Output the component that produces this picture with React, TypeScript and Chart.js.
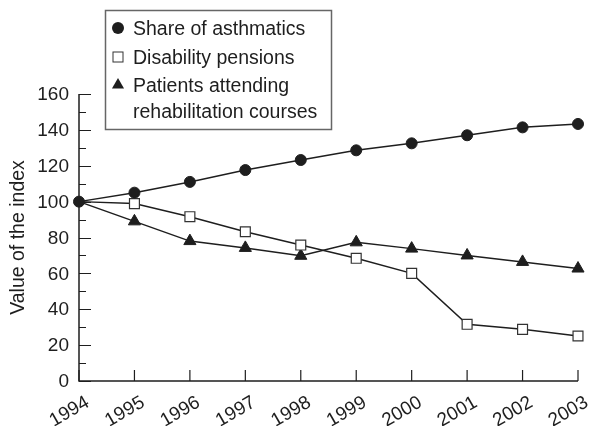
import React, { useEffect, useRef } from "react";
import { Chart, registerables } from "chart.js";

Chart.register(...registerables);

const years = ["1994", "1995", "1996", "1997", "1998", "1999", "2000", "2001", "2002", "2003"];
const asthmatics = [100, 105, 111, 117.6, 123.2, 128.6, 132.5, 137, 141.4, 143.3];
const disability = [100, 98.9, 91.6, 83.2, 75.8, 68.4, 60, 31.6, 28.8, 25.1];
const rehabilitation = [100, 89, 78, 74.2, 69.8, 77.3, 73.8, 70, 66.4, 62.7];
const yMajorTicks = [0, 20, 40, 60, 80, 100, 120, 140, 160];
const yMinorTicks = [10, 30, 50, 70, 90, 110, 130, 150];
const seriesNames = ["Share of asthmatics", "Disability pensions", "Patients attending rehabilitation courses"];
const legendLines = [["Share of asthmatics"], ["Disability pensions"], ["Patients attending", "rehabilitation courses"]];
const yTitle = "Value of the index";

const FONT = '"Liberation Sans", Arial, sans-serif';
const INK = "#1e1e1e";

function drawMarker(ctx: CanvasRenderingContext2D, kind: string, x: number, y: number) {
  ctx.save();
  ctx.lineWidth = 1;
  if (kind === "circle") {
    ctx.fillStyle = INK;
    ctx.beginPath();
    ctx.arc(x, y, 6, 0, Math.PI * 2);
    ctx.fill();
  } else if (kind === "rect") {
    ctx.fillStyle = "#fff";
    ctx.strokeStyle = "#333";
    ctx.fillRect(x - 5, y - 5, 10, 10);
    ctx.strokeRect(x - 5, y - 5, 10, 10);
  } else {
    ctx.fillStyle = INK;
    const r = 7;
    ctx.beginPath();
    ctx.moveTo(x, y - r);
    ctx.lineTo(x + r * Math.sin((2 * Math.PI) / 3), y - r * Math.cos((2 * Math.PI) / 3));
    ctx.lineTo(x + r * Math.sin((4 * Math.PI) / 3), y - r * Math.cos((4 * Math.PI) / 3));
    ctx.closePath();
    ctx.fill();
  }
  ctx.restore();
}

const axesPlugin = {
  id: "customAxes",
  beforeDatasetsDraw(chart: any) {
    const { ctx, scales } = chart;
    const xs = scales.x;
    const ys = scales.y;
    const left = xs.getPixelForValue(0);
    const right = xs.getPixelForValue(years.length - 1);
    const y0 = ys.getPixelForValue(0);
    const yTop = ys.getPixelForValue(160);
    ctx.save();
    ctx.strokeStyle = INK;
    ctx.lineWidth = 1.5;
    ctx.beginPath();
    ctx.moveTo(left, yTop);
    ctx.lineTo(left, y0);
    ctx.lineTo(right, y0);
    ctx.stroke();
    ctx.lineWidth = 1.2;
    ctx.beginPath();
    yMajorTicks.forEach((v) => {
      const p = Math.round(ys.getPixelForValue(v)) + 0.5;
      ctx.moveTo(left, p);
      ctx.lineTo(left + 12, p);
    });
    yMinorTicks.forEach((v) => {
      const p = Math.round(ys.getPixelForValue(v)) + 0.5;
      ctx.moveTo(left, p);
      ctx.lineTo(left + 7, p);
    });
    years.forEach((_, i) => {
      const p = xs.getPixelForValue(i);
      ctx.moveTo(p, y0);
      ctx.lineTo(p, y0 - 11);
    });
    ctx.stroke();

    ctx.fillStyle = INK;
    ctx.font = `19px ${FONT}`;
    ctx.textAlign = "right";
    ctx.textBaseline = "middle";
    yMajorTicks.forEach((v) => {
      ctx.fillText(String(v), left - 10, ys.getPixelForValue(v) + 1);
    });

    years.forEach((yr, i) => {
      const p = xs.getPixelForValue(i);
      ctx.save();
      ctx.translate(p + 4, y0 + 12);
      ctx.rotate((-30 * Math.PI) / 180);
      ctx.textAlign = "right";
      ctx.textBaseline = "top";
      ctx.fillText(yr, 0, 0);
      ctx.restore();
    });

    ctx.save();
    ctx.translate(19, (yTop + y0) / 2);
    ctx.rotate(-Math.PI / 2);
    ctx.textAlign = "center";
    ctx.textBaseline = "middle";
    ctx.font = `19.5px ${FONT}`;
    ctx.fillText(yTitle, 0, 0);
    ctx.restore();
    ctx.restore();
  },
  afterDraw(chart: any) {
    const { ctx } = chart;
    ctx.save();
    ctx.strokeStyle = "#666";
    ctx.lineWidth = 1.5;
    ctx.fillStyle = "#fff";
    ctx.fillRect(105, 10, 227, 120);
    ctx.strokeRect(105.5, 10.5, 226, 119);
    const kinds = ["circle", "rect", "triangle"];
    const baselines = [[35], [64], [92, 118]];
    ctx.fillStyle = INK;
    ctx.font = `19.5px ${FONT}`;
    ctx.textAlign = "left";
    ctx.textBaseline = "alphabetic";
    legendLines.forEach((lines, i) => {
      drawMarker(ctx, kinds[i], 118, baselines[i][0] - 7);
      lines.forEach((t, j) => {
        ctx.fillStyle = INK;
        ctx.fillText(t, 133, baselines[i][j]);
      });
    });
    ctx.restore();
  },
};

export default function App() {
  const ref = useRef<HTMLCanvasElement | null>(null);
  useEffect(() => {
    if (!ref.current) return;
    const common = {
      borderColor: INK,
      borderWidth: 1.5,
      fill: false,
      tension: 0,
      clip: false as any,
    };
    const hideFirst = (r: number) => years.map((_, i) => (i === 0 ? 0 : r));
    const chart = new Chart(ref.current, {
      type: "line",
      data: {
        labels: years,
        datasets: [
          {
            ...common,
            label: seriesNames[0],
            data: asthmatics,
            pointStyle: "circle",
            pointRadius: 5.5,
            pointBorderWidth: 1,
            pointBackgroundColor: INK,
            pointBorderColor: INK,
          },
          {
            ...common,
            label: seriesNames[1],
            data: disability,
            pointStyle: "rect",
            pointRadius: hideFirst(7),
            pointBorderWidth: 1.2,
            pointBackgroundColor: "#fff",
            pointBorderColor: "#333",
          },
          {
            ...common,
            label: seriesNames[2],
            data: rehabilitation,
            pointStyle: "triangle",
            pointRadius: hideFirst(7),
            pointBorderWidth: 1,
            pointBackgroundColor: INK,
            pointBorderColor: INK,
          },
        ],
      },
      options: {
        responsive: false,
        animation: false,
        devicePixelRatio: 1,
        layout: { padding: { left: 79, right: 12, top: 94, bottom: 45 } },
        plugins: { legend: { display: false }, tooltip: { enabled: false } },
        scales: {
          x: { type: "category", display: false, offset: false },
          y: { type: "linear", display: false, min: 0, max: 160 },
        },
      },
      plugins: [axesPlugin],
    });
    return () => chart.destroy();
  }, []);
  return (
    <canvas
      ref={ref}
      width={590}
      height={426}
      style={{ position: "fixed", left: 0, top: 0, width: 590, height: 426, background: "#fff" }}
    />
  );
}
